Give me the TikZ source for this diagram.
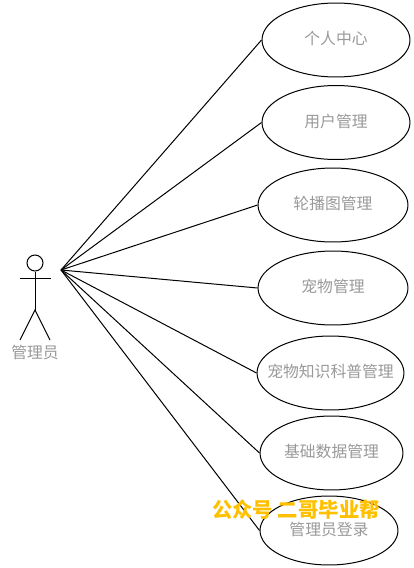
\documentclass[tikz,border=0pt]{standalone}
\usepackage{fontspec}
\newfontfamily\cjk{Noto Sans CJK SC}
\usetikzlibrary{shapes.geometric}
\tikzset{
	usecase/.style={draw=black, ellipse, inner sep=0, line width=0.2mm, label={[text=black!40, yshift=0.03cm, font=\cjk\fontsize{9pt}{10pt}\selectfont]center:#1}},
	stick/.style={line width=0.2mm, color=black}
}
\begin{document}
\begin{tikzpicture}[x=0.02cm, y=-0.02cm]
			%%%%% START %%%%%
			\useasboundingbox (0, 0) rectangle (413, 568);
			
			\node[usecase={个人中心}, minimum width=2.96cm, minimum height=1.48cm] (center) at (336, 40) {};
			\node[usecase={用户管理}, minimum width=2.96cm, minimum height=1.48cm] (user) at (336, 122.5) {};
			\node[usecase={轮播图管理}, minimum width=3cm, minimum height=1.48cm] (banner) at (333, 205) {};
			\node[usecase={宠物管理}, minimum width=3cm, minimum height=1.48cm] (pet) at (333, 288) {};
			\node[usecase={宠物知识科普管理}, minimum width=2.94cm, minimum height=1.48cm] (science) at (330.5, 373) {};
			\node[usecase={基础数据管理}, minimum width=2.86cm, minimum height=1.48cm] (basic) at (331.5, 453) {};
			\node[usecase={管理员登录}, minimum width=2.76cm, minimum height=1.38cm] (login) at (329, 530.5) {};
			
			\node[stick, draw, circle, inner sep=0, minimum size=0.32cm] (head) at (35, 263) {};
			\coordinate (hip) at (35, 310);
			\coordinate (handl) at (20, 278);
			\coordinate (handr) at (51, 278);
			\coordinate (footl) at (20, 340);
			\coordinate (footr) at (50, 340);
			\draw[stick] (head) -- (hip);
			\draw[stick] (handl) -- (handr);
			\draw[stick] (footl) -- (hip) -- (footr);
			\node[text=black!40, font=\cjk\fontsize{9pt}{10pt}\selectfont] (admin) at (35, 352) {管理员};
			
			\coordinate (hub) at (61, 270);
			\foreach \target in {center, user, banner, pet, science, basic, login}
				\draw[stick] (hub) -- (\target.west);
			
			\node[text={rgb,255:red,255;green,192;blue,0}, font=\cjk\fontsize{11.6pt}{12pt}\selectfont] (mark) at (296, 510) {\textbf{公众号 二哥毕业帮}};
			
			%%%%% END %%%%%
\end{tikzpicture}
\end{document}
